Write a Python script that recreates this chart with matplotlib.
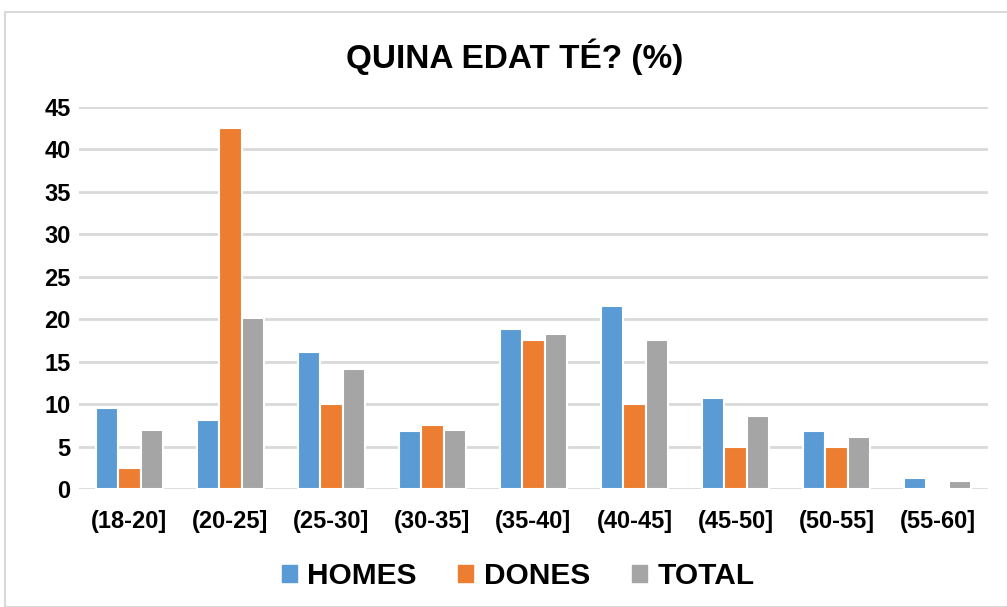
import numpy as np
import matplotlib.pyplot as plt
import matplotlib.patches as mpatches

plt.rcParams['font.family'] = ['Liberation Sans', 'DejaVu Sans']
plt.rcParams['font.weight'] = 'bold'

categories = ["(18-20]", "(20-25]", "(25-30]", "(30-35]", "(35-40]",
              "(40-45]", "(45-50]", "(50-55]", "(55-60]"]
homes = [9.5, 8.1, 16.1, 6.8, 18.8, 21.5, 10.7, 6.8, 1.3]
dones = [2.5, 42.5, 10.0, 7.5, 17.5, 10.0, 5.0, 5.0, 0.0]
total = [7.0, 20.1, 14.1, 6.9, 18.3, 17.5, 8.6, 6.1, 0.9]
series = [("HOMES", homes, "#5B9BD5"),
          ("DONES", dones, "#ED7D31"),
          ("TOTAL", total, "#A5A5A5")]

fig = plt.figure(figsize=(10.07, 6.07), dpi=100)
ax = fig.add_axes([79/1007, 1-489/607, (988-79)/1007, (489-107)/607])

x = np.arange(len(categories))
w = 0.22
for i, (name, vals, col) in enumerate(series):
    ax.bar(x + (i-1)*w, vals, w, color=col, edgecolor="white",
           linewidth=1.5, label=name, zorder=3)

ax.set_xlim(-0.5, len(categories)-0.5)
ax.set_ylim(0, 45)
ax.set_yticks(range(0, 46, 5))
ax.yaxis.grid(True, color="#D9D9D9", linewidth=2, zorder=0)
ax.set_xticks(x)
ax.set_xticklabels(categories)
ax.tick_params(axis="both", length=0, labelsize=17, colors="black")
ax.tick_params(axis="x", pad=15)
ax.tick_params(axis="y", pad=6)
for s in ax.spines.values():
    s.set_visible(False)

fig.text(515/1007, 1-57/607, "QUINA EDAT TÉ? (%)", ha="center", va="center",
         fontsize=24, fontweight="bold")

handles = [mpatches.Patch(color=c, label=n) for n, _, c in series]
fig.legend(handles=handles, loc="center", bbox_to_anchor=(518/1007, 1-576/607),
           ncol=3, frameon=False, fontsize=21.5, handlelength=0.5, handleheight=0.5,
           handletextpad=0.35, columnspacing=1.4)

frame = mpatches.Rectangle((5/1007, 0), 1.1, 1-12/607, transform=fig.transFigure,
                           fill=False, edgecolor="#D9D9D9", linewidth=1.5)
fig.patches.append(frame)

fig.savefig("out.png", dpi=100)
